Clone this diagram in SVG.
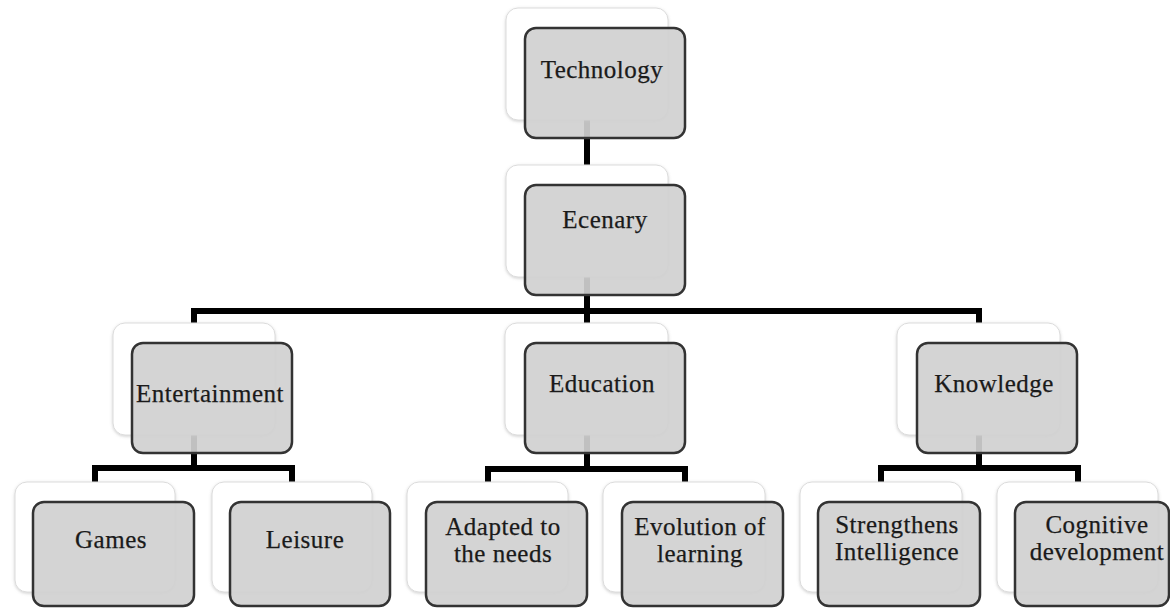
<svg xmlns="http://www.w3.org/2000/svg" width="1170" height="608" viewBox="0 0 1170 608">
<defs>
<filter id="sh" x="-10%" y="-10%" width="120%" height="120%">
<feDropShadow dx="0" dy="1" stdDeviation="1.5" flood-color="#888" flood-opacity="0.4"/>
</filter>
</defs>
<style>
.back{fill:#fff;stroke:#dcdcdc;stroke-width:1;filter:url(#sh)}
.front{fill:#d0d0d0;fill-opacity:0.92;stroke:#333;stroke-width:2.5}
.lbl{font-family:"Liberation Serif","Times New Roman",serif;font-size:25px;fill:#1a1a1a;stroke:#1a1a1a;stroke-width:0.25;text-anchor:middle;letter-spacing:0.5px}
.conn{fill:none;stroke:#000;stroke-width:6;stroke-linejoin:miter}
</style>
<rect width="1170" height="608" fill="#fff"/>
<g id="connectors">
<path class="conn" d="M587,120 V165"/>
<path class="conn" d="M587,277 V325"/>
<path class="conn" d="M194,325 V311 H979 V325"/>
<path class="conn" d="M194,435 V468"/>
<path class="conn" d="M95,484 V468 H292 V484"/>
<path class="conn" d="M587,435 V469"/>
<path class="conn" d="M488,484 V469 H685 V484"/>
<path class="conn" d="M979,435 V468"/>
<path class="conn" d="M881,484 V468 H1078 V484"/>
</g>
<g id="technology">
<rect class="back" x="506" y="8" width="162" height="112" rx="12"/>
<rect class="front" x="525" y="28" width="160" height="110" rx="11"/>
<text class="lbl" x="602" y="78">Technology</text>
</g>
<g id="ecenary">
<rect class="back" x="506" y="165" width="162" height="112" rx="12"/>
<rect class="front" x="525" y="185" width="160" height="110" rx="11"/>
<text class="lbl" x="605" y="228">Ecenary</text>
</g>
<g id="entertainment">
<rect class="back" x="113" y="323" width="162" height="112" rx="12"/>
<rect class="front" x="132" y="343" width="160" height="110" rx="11"/>
<text class="lbl" x="210" y="402">Entertainment</text>
</g>
<g id="education">
<rect class="back" x="505" y="323" width="163" height="112" rx="12"/>
<rect class="front" x="525" y="343" width="160" height="110" rx="11"/>
<text class="lbl" x="602" y="392">Education</text>
</g>
<g id="knowledge">
<rect class="back" x="897" y="323" width="163" height="112" rx="12"/>
<rect class="front" x="917" y="343" width="160" height="110" rx="11"/>
<text class="lbl" x="994" y="392">Knowledge</text>
</g>
<g id="games">
<rect class="back" x="15" y="482" width="160" height="110" rx="12"/>
<rect class="front" x="33" y="502" width="161" height="104" rx="11"/>
<text class="lbl" x="111" y="548">Games</text>
</g>
<g id="leisure">
<rect class="back" x="212" y="482" width="160" height="110" rx="12"/>
<rect class="front" x="230" y="502" width="160" height="104" rx="11"/>
<text class="lbl" x="305" y="548">Leisure</text>
</g>
<g id="adapted">
<rect class="back" x="407" y="482" width="161" height="110" rx="12"/>
<rect class="front" x="426" y="502" width="161" height="104" rx="11"/>
<text class="lbl" x="503" y="535">Adapted to</text>
<text class="lbl" x="503" y="562">the needs</text>
</g>
<g id="evolution">
<rect class="back" x="603" y="482" width="162" height="110" rx="12"/>
<rect class="front" x="622" y="502" width="161" height="104" rx="11"/>
<text class="lbl" x="700" y="535">Evolution of</text>
<text class="lbl" x="700" y="562">learning</text>
</g>
<g id="strengthens">
<rect class="back" x="800" y="482" width="162" height="110" rx="12"/>
<rect class="front" x="818" y="502" width="162" height="104" rx="11"/>
<text class="lbl" x="897" y="533">Strengthens</text>
<text class="lbl" x="897" y="560">Intelligence</text>
</g>
<g id="cognitive">
<rect class="back" x="997" y="482" width="161" height="110" rx="12"/>
<rect class="front" x="1015" y="502" width="154" height="104" rx="11"/>
<text class="lbl" x="1097" y="533">Cognitive</text>
<text class="lbl" x="1097" y="560">development</text>
</g>
</svg>
